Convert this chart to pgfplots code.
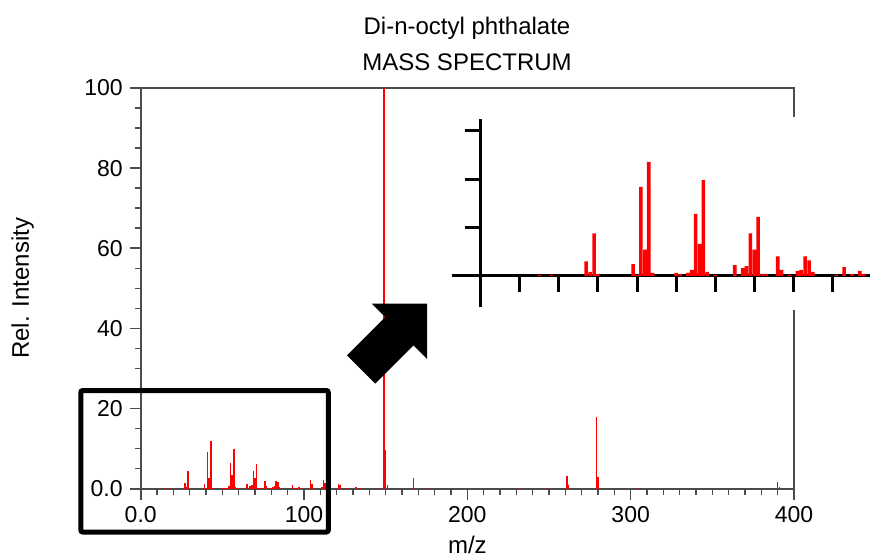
\documentclass[border=0pt]{standalone}
\usepackage{fontspec}
\setmainfont{Liberation Sans}
\usepackage{pgfplots}
\pgfplotsset{compat=1.18}
\usepackage{pgfplotstable}

% m/z below 100 (also shown in the inset)
\pgfplotstableread{
mz rel
15 0.1
18 0.1
27 1.5
28 0.4
29 4.4
30 0.2
39 1.2
40 0.1
41 9.2
42 2.7
43 11.8
44 0.3
50 0.3
51 0.2
53 0.3
54 0.6
55 6.4
56 3.3
57 9.9
58 0.4
60 0.1
65 1.1
67 0.8
68 1.0
69 4.4
70 2.7
71 6.1
72 0.2
73 0.2
76 2.0
77 0.6
79 0.1
81 0.5
82 0.6
83 2.0
84 1.6
85 0.4
91 0.1
93 0.9
95 0.2
97 0.5
98 0.2
}\lowdata

% m/z 100 and up
\pgfplotstableread{
mz rel
104 2.2
105 1.3
111 0.4
112 2.2
113 1.4
121 1.3
122 1.0
127 0.3
129 0.3
132 0.4
135 0.2
147 0.3
149 100
150 9.6
151 1.0
167 2.7
168 0.3
176 0.2
233 0.2
250 0.2
261 3.2
262 0.9
279 18.0
280 3.0
305 0.2
347 0.1
390 1.7
391 0.4
}\highdata

\begin{document}
\begin{tikzpicture}
\begin{axis}[
    at={(70.35pt,34.65pt)}, anchor=south west,
    scale only axis, width=326.65pt, height=200.35pt,
    xmin=0, xmax=400, ymin=0, ymax=100,
    xtick={0,100,200,300,400}, xticklabels={0.0,100,200,300,400},
    ytick={0,20,40,60,80,100}, yticklabels={0.0,20,40,60,80,100},
    minor xtick={10,20,...,390}, minor ytick={5,10,...,95},
    tick align=outside, xtick pos=left, ytick pos=left,
    major tick length=5.5pt, minor tick length=3pt,
    axis line style={black!70, line width=0.8pt},
    tick style={black!70, line width=0.8pt},
    tick label style={font=\fontsize{11.5}{13}\selectfont},
    xlabel={m/z}, ylabel={Rel. Intensity},
    every axis x label/.style={at={(axis description cs:0.5,-0.162)}, anchor=base, font=\fontsize{12}{14}\selectfont},
    every axis y label/.style={at={(axis description cs:-0.171,0.5)}, rotate=90, anchor=base, font=\fontsize{12}{14}\selectfont},
]
\addplot[ycomb, red, line width=0.8pt, mark=none] table[x=mz, y=rel] {\lowdata};
\addplot[ycomb, red, line width=0.8pt, mark=none] table[x=mz, y=rel] {\highdata};
\end{axis}
\node[anchor=base, font=\fontsize{12}{14}\selectfont] at (233.5pt,261.5pt) {Di-n-octyl phthalate};
\node[anchor=base, font=\fontsize{12}{14}\selectfont] at (233.5pt,243.65pt) {MASS SPECTRUM};

% zoom box and arrow
\draw[black, line width=2.5pt, rounded corners=1pt] (40.4pt,13pt) rectangle (164.15pt,83.75pt);
\fill[black] (213.5pt,127.2pt) -- (185.8pt,127.2pt) -- (192.58pt,120.42pt) -- (173.49pt,101.33pt)
  -- (187.63pt,87.19pt) -- (206.72pt,106.28pt) -- (213.5pt,99.5pt) -- cycle;

% inset
\fill[white] (222.5pt,124pt) rectangle (435pt,220.5pt);
\begin{axis}[
    at={(225.85pt,125.65pt)}, anchor=south west,
    scale only axis, width=209.15pt, height=93.7pt,
    xmin=-7.4, xmax=99.6, ymin=-3.2, ymax=16.2,
    axis lines=middle, axis line style={-, black, line width=1.5pt},
    xtick={10,20,...,90}, ytick={5,10,15},
    xticklabels={}, yticklabels={},
    tick align=outside, major tick length=8pt,
    tick style={black, line width=1.5pt},
]
\addplot[ybar, bar width=0.9, fill=red, draw=none] table[x=mz, y=rel] {\lowdata};
\end{axis}

\pgfresetboundingbox
\path (0,0) rectangle (435pt,279pt);
\end{tikzpicture}
\end{document}
